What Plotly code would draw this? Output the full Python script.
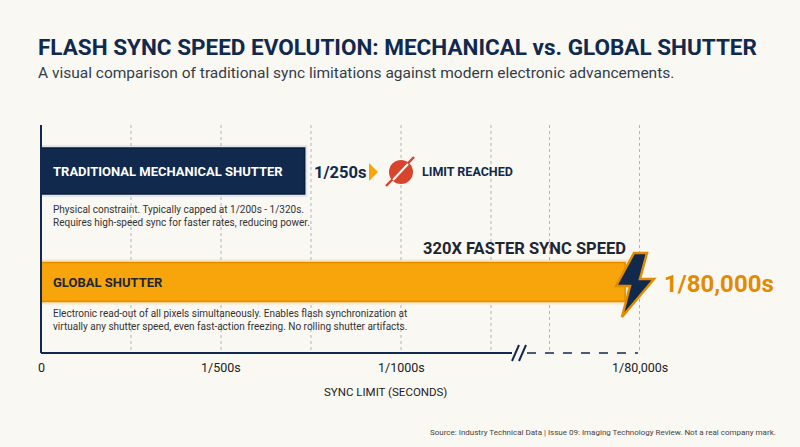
import plotly.graph_objects as go

# ---- data ----
categories = ["TRADITIONAL MECHANICAL SHUTTER", "GLOBAL SHUTTER"]
bar_values = [2.93, 6.49]          # position on the (broken) sync-limit axis
tick_vals = [0, 2, 4, 6.65]
tick_labels = ["0", "1/500s", "1/1000s", "1/80,000s"]
grid_vals = [1, 2, 3, 4, 5, 5.65, 6.65]
descriptions = [
    "Physical constraint. Typically capped at 1/200s - 1/320s.<br>Requires high-speed sync for faster rates, reducing power.",
    "Electronic read-out of all pixels simultaneously. Enables flash synchronization at<br>virtually any shutter speed, even fast-action freezing. No rolling shutter artifacts.",
]

W, H = 800, 447
PX0, PXU = 41, 90.0
def ux(px):  # pixel -> axis units
    return (px - PX0) / PXU

NAVY = "#10294d"; ORANGE = "#f7a50a"; ORANGE_D = "#e38b00"; BG = "#faf8f3"
FONT = "Roboto"

fig = go.Figure()
bar_y = [171, 282]
bar_w = [46, 39]
colors = [NAVY, ORANGE]
lines = ["#0a1d38", ORANGE_D]
for i in range(2):
    fig.add_trace(go.Bar(x=[bar_values[i] + 0.03], y=[bar_y[i]], width=[bar_w[i] + 6], orientation="h",
                         marker=dict(color="rgba(247,165,10,0.2)" if i else "rgba(60,110,190,0.12)", line_width=0),
                         hoverinfo="skip", showlegend=False))
for i in range(2):
    fig.add_trace(go.Bar(x=[bar_values[i]], y=[bar_y[i]], width=[bar_w[i]], orientation="h",
                         marker=dict(color=colors[i], line=dict(color=lines[i], width=1.5)),
                         hoverinfo="skip", showlegend=False))

shapes = []
for g in grid_vals:
    shapes.append(dict(type="line", x0=g, x1=g, y0=125, y1=353, xref="x", yref="y",
                       line=dict(color="#b0b5bc", width=1, dash="dot"), layer="below"))
shapes.append(dict(type="line", x0=0, x1=0, y0=125, y1=353, line=dict(color=NAVY, width=2)))
shapes.append(dict(type="line", x0=0, x1=ux(512), y0=353, y1=353, line=dict(color=NAVY, width=2)))
shapes.append(dict(type="line", x0=ux(527), x1=ux(638), y0=353, y1=353, line=dict(color=NAVY, width=1.5, dash="dash")))
for bx in (512, 519):
    shapes.append(dict(type="line", x0=ux(bx), x1=ux(bx + 7), y0=361, y1=345, line=dict(color=NAVY, width=2)))
shapes.append(dict(type="path", path=f"M {ux(369)},163 L {ux(378)},172 L {ux(369)},181 Z",
                   fillcolor=ORANGE, line_width=0))
shapes.append(dict(type="circle", x0=ux(389), x1=ux(413), y0=160, y1=184, fillcolor="#d6452c", line_width=0))
shapes.append(dict(type="line", x0=ux(386), x1=ux(414), y0=186, y1=157, line=dict(color="#d6452c", width=2.5)))
shapes.append(dict(type="line", x0=ux(393), x1=ux(408), y0=180, y1=164, line=dict(color="white", width=2)))
pts = [(634, 253), (616, 286), (630, 286), (622, 317), (654, 279), (640, 279), (647, 253)]
path = "M " + " L ".join(f"{ux(a)},{b}" for a, b in pts) + " Z"
shapes.append(dict(type="path", path=path, fillcolor=NAVY, line=dict(color=ORANGE_D, width=2.5)))

ann = []
def t(x, y, text, size, color, bold=False, xa="left", ya="middle"):
    ann.append(dict(x=x, y=y, xref="x", yref="y", text=f"<b>{text}</b>" if bold else text,
                    showarrow=False, xanchor=xa, yanchor=ya, align=xa if xa != "center" else "center",
                    font=dict(family=FONT, size=size, color=color)))

t(ux(36), 47, "FLASH SYNC SPEED EVOLUTION: MECHANICAL vs. GLOBAL SHUTTER", 22.5, NAVY, True)
t(ux(36), 73, "A visual comparison of traditional sync limitations against modern electronic advancements.", 15.5, "#333d4a")
t(ux(51), bar_y[0], categories[0], 13, "white", True)
t(ux(51), bar_y[1], categories[1], 13, "#1e2633", True)
t(ux(51), 216, descriptions[0], 10, "#333")
t(ux(51), 320, descriptions[1], 10, "#333")
t(ux(312), 172, "1/250s", 16.5, NAVY, True)
t(ux(420), 171, "LIMIT REACHED", 12.5, NAVY, True)
t(ux(628), 248, "320X FASTER SYNC SPEED", 16.5, "#1e2633", True, xa="right")
t(ux(662), 284, "1/80,000s", 24, ORANGE_D, True)
for v, lab in zip(tick_vals, tick_labels):
    t(v, 367, lab, 12.5, "#222", xa="center")
t(ux(385), 392, "SYNC LIMIT (SECONDS)", 11.5, "#222", xa="center")
t(ux(778), 432, "Source: Industry Technical Data | Issue 09: Imaging Technology Review. Not a real company mark.", 8, "#444", xa="right")

fig.update_layout(
    width=W, height=H, margin=dict(l=0, r=0, t=0, b=0),
    paper_bgcolor=BG, plot_bgcolor=BG, barmode="overlay",
    xaxis=dict(range=[ux(0), ux(W)], visible=False, fixedrange=True),
    yaxis=dict(range=[H, 0], visible=False, fixedrange=True),
    shapes=shapes, annotations=ann,
)
fig.write_html("out.html", config={"displayModeBar": False},
               post_script="document.body.style.margin='0';document.body.style.background='#faf8f3';")
